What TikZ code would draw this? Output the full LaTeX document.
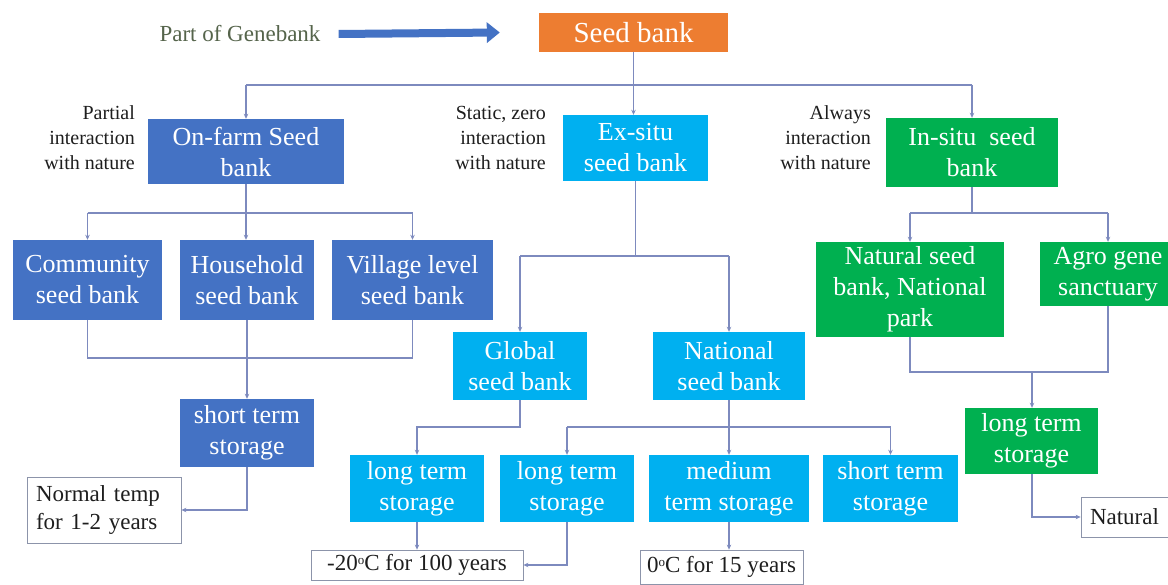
\documentclass[tikz,border=0pt]{standalone}
\usepackage{fontspec}
\setmainfont{Liberation Serif}
\newfontfamily\tnr{Liberation Serif}
\usetikzlibrary{arrows.meta}
\definecolor{cOrange}{HTML}{ED7D31}
\definecolor{cBlue}{HTML}{4472C4}
\definecolor{cCyan}{HTML}{00B0F0}
\definecolor{cGreen}{HTML}{00B050}
\definecolor{cLine}{RGB}{125,138,190}
\definecolor{cText}{RGB}{30,30,30}
\definecolor{cGene}{RGB}{85,100,75}
\definecolor{cBorder}{RGB}{140,148,170}
\begin{document}
\begin{tikzpicture}[x=1pt,y=-1pt,
  box/.style={draw=none, text=white, align=center, inner sep=0pt, font=\tnr\fontsize{26}{31}\selectfont},
  bluebox/.style={box, fill=cBlue},
  cyanbox/.style={box, fill=cCyan},
  greenbox/.style={box, fill=cGreen},
  orangebox/.style={box, fill=cOrange, font=\tnr\fontsize{29}{34}\selectfont},
  wbox/.style={draw=cBorder, line width=0.8pt, fill=white, text=cText, inner sep=0pt, font=\tnr\fontsize{23}{28}\selectfont},
  side/.style={align=right, font=\tnr\fontsize{20}{25}\selectfont, text=cText, inner sep=0pt, anchor=east},
  conn/.style={draw=cLine, line width=1.2pt},
  arr/.style={conn, -{Stealth[length=5pt,width=4.5pt]}},
]
\fill[white] (0,0) rectangle (1168,585);
\useasboundingbox (0,0) rectangle (1168,585);

% top
\node[orangebox, minimum width=189, minimum height=39] (seed) at (633.5,32.5) {Seed bank};
\node[text=cGene, inner sep=0pt, font=\tnr\fontsize{23}{28}\selectfont] (pog) at (240,34) {Part of Genebank};
\draw[cBlue, line width=8pt, -{Triangle[length=13pt,width=20pt]}] ([xshift=18]pog.east) -- ([xshift=-39]seed.west);

% level 1
\node[bluebox, minimum width=196, minimum height=65] (onfarm) at (246,151.5) {On-farm Seed\\bank};
\node[cyanbox, minimum width=145, minimum height=66] (exsitu) at (635.5,148) {Ex-situ\\seed bank};
\node[greenbox, minimum width=172, minimum height=69] (insitu) at (972,152.5) {In-situ\ \ seed\\bank};

\node[side] (lab1) at (135,137.5) {Partial\\interaction\\with nature};
\node[side] (lab2) at (546,137.5) {Static, zero\\interaction\\with nature};
\node[side] (lab3) at (871,137.5) {Always\\interaction\\with nature};

% on-farm branch
\node[bluebox, minimum width=149, minimum height=80] (comm) at (87.5,280) {Community\\seed bank};
\node[bluebox, minimum width=134, minimum height=80] (house) at (247,280) {Household\\seed bank};
\node[bluebox, minimum width=161, minimum height=80] (village) at (412.5,280) {Village level\\seed bank};
\node[bluebox, minimum width=134, minimum height=68] (stl) at (247,433) {short term\\storage};
\node[wbox, text width=136, align=left, inner xsep=9pt, minimum height=66] (normal) at (104,510) {Normal temp\\for 1-2 years};

% ex-situ branch
\node[cyanbox, minimum width=134, minimum height=68] (global) at (520,366) {Global\\seed bank};
\node[cyanbox, minimum width=152, minimum height=68] (national) at (729,366) {National\\seed bank};
\node[cyanbox, minimum width=134, minimum height=67] (lt1) at (417,488.5) {long term\\storage};
\node[cyanbox, minimum width=134, minimum height=67] (lt2) at (567,488.5) {long term\\storage};
\node[cyanbox, minimum width=160, minimum height=67] (medium) at (729,488.5) {medium\\term storage};
\node[cyanbox, minimum width=135, minimum height=67] (sts) at (890.5,488.5) {short term\\storage};
\node[wbox, minimum width=212, minimum height=30] (m20) at (417,565) {-20{\fontsize{13}{13}\selectfont\raisebox{6pt}{o}}C for 100 years};
\node[wbox, minimum width=163, minimum height=34] (zero) at (721.5,567) {0{\fontsize{13}{13}\selectfont\raisebox{6pt}{o}}C for 15 years};

% in-situ branch
\node[greenbox, minimum width=188, minimum height=95] (natseed) at (910,289.5) {Natural seed\\bank, National\\park};
\node[greenbox, minimum width=136, minimum height=64] (agro) at (1108,274) {Agro gene\\sanctuary};
\node[greenbox, minimum width=133, minimum height=66] (ltg) at (1031.5,441) {long term\\storage};
\node[wbox, text width=81, align=left, inner xsep=9pt, minimum height=40] (natural) at (1130.5,517) {Natural};

% bus coordinates
\coordinate (b1) at (0,85);
\coordinate (b2) at (0,213);
\coordinate (b3) at (0,358);
\coordinate (b4) at (0,256);
\coordinate (b5) at (0,427);
\coordinate (b6) at (0,372);
\coordinate (sj) at (1032,0);

% seed bank connectors
\draw[conn] (seed.south) -- (seed.south |- b1);
\draw[conn] (onfarm.north |- b1) -- (insitu.north |- b1);
\draw[arr] (onfarm.north |- b1) -- (onfarm.north);
\draw[arr] (seed.south |- b1) -- (seed.south |- exsitu.north);
\draw[arr] (insitu.north |- b1) -- (insitu.north);

% on-farm connectors
\draw[conn] (onfarm.south) -- (onfarm.south |- b2);
\draw[conn] (comm.north |- b2) -- (village.north |- b2);
\draw[arr] (comm.north |- b2) -- (comm.north);
\draw[arr] (onfarm.south |- b2) -- (onfarm.south |- house.north);
\draw[arr] (village.north |- b2) -- (village.north);
\draw[conn] (comm.south) -- (comm.south |- b3) -- (village.south |- b3) -- (village.south);
\draw[arr] (house.south) -- (stl.north);
\draw[arr] (stl.south) |- (normal.east);

% ex-situ connectors
\draw[conn] (exsitu.south) -- (exsitu.south |- b4);
\draw[conn] (global.north |- b4) -- (national.north |- b4);
\draw[arr] (global.north |- b4) -- (global.north);
\draw[arr] (national.north |- b4) -- (national.north);
\draw[arr] (global.south) -- (global.south |- b5) -| (lt1.north);
\draw[conn] (national.south) -- (national.south |- b5);
\draw[conn] (lt2.north |- b5) -- (sts.north |- b5);
\draw[arr] (lt2.north |- b5) -- (lt2.north);
\draw[arr] (national.south |- b5) -- (medium.north);
\draw[arr] (sts.north |- b5) -- (sts.north);
\draw[arr] (lt1.south) -- (m20.north -| lt1.south);
\draw[arr] (lt2.south) |- (m20.east);
\draw[arr] (medium.south) -- (medium.south |- zero.north);

% in-situ connectors
\draw[conn] (insitu.south) -- (insitu.south |- b2);
\draw[conn] (natseed.north |- b2) -- (agro.north |- b2);
\draw[arr] (natseed.north |- b2) -- (natseed.north);
\draw[arr] (agro.north |- b2) -- (agro.north);
\draw[conn] (natseed.south) -- (natseed.south |- b6) -- (agro.south |- b6) -- (agro.south);
\draw[arr] (sj |- b6) -- (sj |- ltg.north);
\draw[arr] (ltg.south -| sj) |- (natural.west);
\end{tikzpicture}
\end{document}
